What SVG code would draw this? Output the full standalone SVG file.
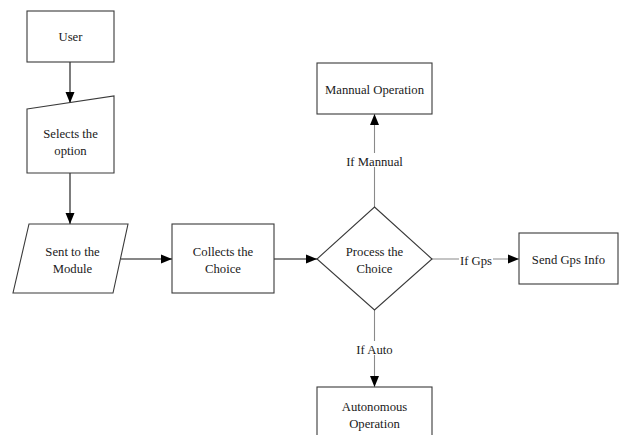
<svg xmlns="http://www.w3.org/2000/svg" width="619" height="435" viewBox="0 0 619 435">
<defs>
<style>
.n{fill:#fff;stroke:#3a3a3a;stroke-width:1.1}
.t{font-family:'Liberation Serif','Times New Roman',serif;font-size:12.7px;fill:#1a1a1a;text-anchor:middle}
.c{fill:none;stroke:#111;stroke-width:1.1}
.g{fill:none;stroke:#8a8a8a;stroke-width:1.1}
.lb{fill:#fff}
</style>
<marker id="ah" markerUnits="userSpaceOnUse" markerWidth="12" markerHeight="10" refX="11" refY="5" orient="auto">
<path d="M0,0.5 L11,5 L0,9.5 Z" fill="#000"/>
</marker>
</defs>
<rect width="619" height="435" fill="#fff"/>
<g id="connectors">
<line class="c" x1="70" y1="62" x2="70" y2="103" marker-end="url(#ah)"/>
<line class="c" x1="70" y1="173" x2="70" y2="224" marker-end="url(#ah)"/>
<line class="c" x1="121" y1="259" x2="172" y2="259" marker-end="url(#ah)"/>
<line class="c" x1="274" y1="259" x2="317" y2="259" marker-end="url(#ah)"/>
<line class="g" x1="374.5" y1="207" x2="374.5" y2="114" marker-end="url(#ah)"/>
<line class="g" x1="432" y1="259" x2="519" y2="259" marker-end="url(#ah)"/>
<line class="g" x1="374.5" y1="310" x2="374.5" y2="387" marker-end="url(#ah)"/>
<rect class="lb" x="343" y="153" width="63" height="14"/>
<text class="t" x="374.5" y="166">If Mannual</text>
<rect class="lb" x="459" y="252" width="34" height="14"/>
<text class="t" x="476" y="265">If Gps</text>
<rect class="lb" x="353" y="341" width="43" height="14"/>
<text class="t" x="374.5" y="354">If Auto</text>
</g>
<g id="user">
<rect class="n" x="27" y="11" width="87" height="51"/>
<text class="t" x="70.5" y="41">User</text>
</g>
<g id="selects">
<path class="n" d="M27,109 L114,96 L114,173 L27,173 Z"/>
<text class="t" x="70.5" y="138">Selects the</text>
<text class="t" x="70.5" y="155">option</text>
</g>
<g id="sent">
<path class="n" d="M29,224 L128,224 L113,293 L13,293 Z"/>
<text class="t" x="72.5" y="256">Sent to the</text>
<text class="t" x="72.5" y="273">Module</text>
</g>
<g id="collects">
<rect class="n" x="172" y="224" width="102" height="69"/>
<text class="t" x="223" y="256">Collects the</text>
<text class="t" x="223" y="273">Choice</text>
</g>
<g id="process">
<path class="n" d="M374.5,207 L432,259 L374.5,310 L317,259 Z"/>
<text class="t" x="374.5" y="256">Process the</text>
<text class="t" x="374.5" y="273">Choice</text>
</g>
<g id="manual">
<rect class="n" x="317" y="63" width="115" height="51"/>
<text class="t" x="374.5" y="94">Mannual Operation</text>
</g>
<g id="gps">
<rect class="n" x="519" y="233" width="99" height="51"/>
<text class="t" x="568.5" y="264">Send Gps Info</text>
</g>
<g id="auto">
<rect class="n" x="317" y="387" width="115" height="60"/>
<text class="t" x="374.5" y="411">Autonomous</text>
<text class="t" x="374.5" y="428">Operation</text>
</g>
</svg>
